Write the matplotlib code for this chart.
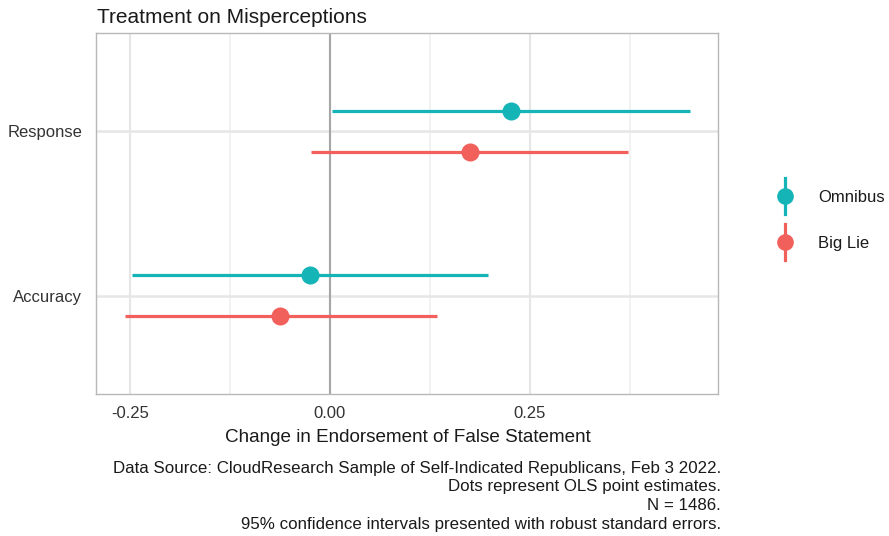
import matplotlib
matplotlib.use("Agg")
import matplotlib.pyplot as plt
from matplotlib.lines import Line2D
from matplotlib.ticker import FixedLocator

# ---- data -------------------------------------------------------------
categories = ["Accuracy", "Response"]
treatments = ["Omnibus", "Big Lie"]

omnibus_est = [-0.025, 0.226]
omnibus_lo = [-0.247, 0.002]
omnibus_hi = [0.197, 0.450]

biglie_est = [-0.062, 0.175]
biglie_lo = [-0.256, -0.024]
biglie_hi = [0.134, 0.373]

x_ticks = [-0.25, 0.0, 0.25]
x_tick_labels = ["-0.25", "0.00", "0.25"]
x_minor = [-0.125, 0.125, 0.375]

caption_lines = [
    "Data Source: CloudResearch Sample of Self-Indicated Republicans, Feb 3 2022.",
    "Dots represent OLS point estimates.",
    "N = 1486.",
    "95% confidence intervals presented with robust standard errors.",
]

# ---- style ------------------------------------------------------------
W, H = 889, 536
plt.rcParams["font.family"] = ["Liberation Sans", "DejaVu Sans"]
colors = {"Omnibus": "#14B4B7", "Big Lie": "#F2605C"}
offsets = {"Omnibus": 0.125, "Big Lie": -0.125}
series = {
    "Omnibus": (omnibus_est, omnibus_lo, omnibus_hi),
    "Big Lie": (biglie_est, biglie_lo, biglie_hi),
}


def fx(px):
    return px / W


def fy(py):
    return 1 - py / H


fig = plt.figure(figsize=(W / 100, H / 100), dpi=100)
ax = fig.add_axes([fx(96), fy(394), fx(718) - fx(96), fy(33) - fy(394)])

ax.set_xlim(-0.2925, 0.485)
ax.set_ylim(0.4, 2.6)

# grid
for xv in x_minor:
    ax.axvline(xv, color="#EFEFEF", lw=1.1, zorder=0)
for xv in x_ticks:
    ax.axvline(xv, color="#E6E6E6", lw=1.5, zorder=0)
ypos = list(range(1, len(categories) + 1))
for yv in ypos:
    ax.axhline(yv, color="#E6E6E6", lw=1.8, zorder=0)

# reference line at zero
ax.axvline(0, color="#A6A6A6", lw=1.5, zorder=1)

# point ranges
for name in treatments:
    est, lo, hi = series[name]
    ys = [y + offsets[name] for y in ypos]
    ax.hlines(ys, lo, hi, color=colors[name], lw=2.3, zorder=2)
    ax.plot(est, ys, "o", color=colors[name], ms=13, mec="none", zorder=3)

# axes decoration
ax.xaxis.set_major_locator(FixedLocator(x_ticks))
ax.set_xticklabels(x_tick_labels)
ax.set_yticks(ypos)
ax.set_yticklabels(categories)
ax.tick_params(axis="both", length=0, labelsize=12, labelcolor="#333333")
ax.tick_params(axis="x", pad=9)
ax.tick_params(axis="y", pad=10)
for sp in ax.spines.values():
    sp.set_color("#B8B8B8")
    sp.set_linewidth(1.0)

# titles
fig.text(fx(97), fy(22.7), "Treatment on Misperceptions", fontsize=15,
         color="#1A1A1A", ha="left", va="baseline")
fig.text(fx(408), fy(438), "Change in Endorsement of False Statement",
         fontsize=13.6, color="#1A1A1A", ha="center", va="center")

cap_y = [468, 487, 505, 524]
for line, yv in zip(caption_lines, cap_y):
    fig.text(fx(721), fy(yv), line, fontsize=12.2, color="#1A1A1A",
             ha="right", va="center")

# legend (point-range keys)
leg_y = [196, 242]
for name, yv in zip(treatments, leg_y):
    fig.add_artist(Line2D([fx(785), fx(785)], [fy(yv - 18), fy(yv + 18)],
                          transform=fig.transFigure, color=colors[name], lw=2.3))
    fig.add_artist(Line2D([fx(785)], [fy(yv)], transform=fig.transFigure,
                          marker="o", ms=12, color=colors[name], mec="none"))
    fig.text(fx(818), fy(yv + 1), name, fontsize=12, color="#1A1A1A",
             ha="left", va="center")

fig.savefig("out.png", dpi=100, facecolor="white")
